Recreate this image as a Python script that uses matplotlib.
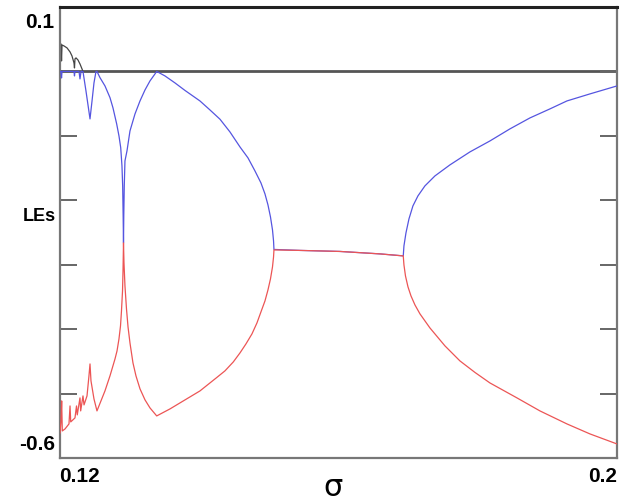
import numpy as np
import matplotlib
matplotlib.use("Agg")
import matplotlib.pyplot as plt

# Lyapunov exponents vs sigma

# largest LE (black), positive only at the very left, then 0
le1_sigma = [0.1200, 0.12014, 0.12022, 0.12029, 0.12057, 0.12101, 0.12144, 0.12172,
             0.12201, 0.12208, 0.12215, 0.12230, 0.12258, 0.12287, 0.12316, 0.12330]
le1_vals = [0.0427, 0.0427, 0.0163, 0.0411, 0.0396, 0.0365, 0.0303, 0.0241,
            0.0132, 0.0054, 0.0194, 0.0210, 0.0178, 0.0116, 0.0039, 0.0]

# second LE (blue)
le2_sigma = [0.1200, 0.12014, 0.12022, 0.12029, 0.12201, 0.12208, 0.12215, 0.12273,
             0.12287, 0.12302, 0.12330, 0.12373, 0.12402, 0.12431, 0.12460, 0.12488,
             0.12517, 0.12531, 0.12574, 0.12646, 0.12718, 0.12761, 0.12814, 0.12847,
             0.12872, 0.12890, 0.12900, 0.12907, 0.12912, 0.12916, 0.12923, 0.12933,
             0.12962, 0.13005, 0.13077, 0.13149, 0.13221, 0.13292, 0.13364, 0.13389,
             0.13508, 0.13651, 0.13795, 0.14010, 0.14154, 0.14298, 0.14441, 0.14585,
             0.14700, 0.14800, 0.14886, 0.14944, 0.14987, 0.15023, 0.15052, 0.15067,
             0.15073, 0.15446, 0.16021, 0.16595, 0.16930,
             0.16940, 0.16969, 0.17012, 0.17069, 0.17141, 0.17241, 0.17385, 0.17600,
             0.17888, 0.18175, 0.18462, 0.18749, 0.19036, 0.19281, 0.19611, 0.2000]
le2_vals = [0.0, 0.0, -0.0101, 0.0, 0.0, -0.0070, 0.0, 0.0,
            -0.0116, 0.0, 0.0, -0.0303, -0.0520, -0.0737, -0.0458, -0.0178,
            0.0, 0.0, -0.0096, -0.0225, -0.0407, -0.0566, -0.0815, -0.1001,
            -0.1183, -0.1467, -0.1777, -0.2242, -0.2662, -0.2242, -0.1777, -0.1389,
            -0.1234, -0.0924, -0.0660, -0.0458, -0.0287, -0.0148, -0.0039, 0.0,
            -0.0070, -0.0178, -0.0295, -0.0458, -0.0598, -0.0742, -0.0939, -0.1172,
            -0.1342, -0.1544, -0.1730, -0.1901, -0.2072, -0.2258, -0.2460, -0.2631,
            -0.2763, -0.2778, -0.2794, -0.2832, -0.2863,
            -0.2708, -0.2506, -0.2289, -0.2087, -0.1932, -0.1777, -0.1622, -0.1451,
            -0.1249, -0.1079, -0.0892, -0.0722, -0.0582, -0.0458, -0.0349, -0.0225]

# third LE (red)
le3_sigma = [0.1200, 0.12014, 0.12024, 0.12033, 0.12072, 0.12129, 0.12144, 0.12154,
             0.12215, 0.12237, 0.12248, 0.12287, 0.12297, 0.12330, 0.12345, 0.12388,
             0.12416, 0.12431, 0.12445, 0.12488, 0.12531, 0.12646, 0.12718, 0.12790,
             0.12819, 0.12847, 0.12869, 0.12883, 0.12898, 0.12905, 0.12912,
             0.12919, 0.12933, 0.12955, 0.12977, 0.13005, 0.13048, 0.13091, 0.13149,
             0.13221, 0.13292, 0.13389, 0.13580, 0.13771, 0.14010, 0.14250, 0.14369,
             0.14489, 0.14585, 0.14671, 0.14757, 0.14829, 0.14886, 0.14944, 0.14987,
             0.15023, 0.15052, 0.15067, 0.15073, 0.15446, 0.16021, 0.16595, 0.16930,
             0.16940, 0.16962, 0.16998, 0.17041, 0.17098, 0.17170, 0.17313, 0.17529,
             0.17744, 0.17960, 0.18175, 0.18563, 0.18893, 0.19281, 0.19611, 0.2000]
le3_vals = [-0.5611, -0.5425, -0.5114, -0.5580, -0.5549, -0.5471, -0.5192, -0.5440,
            -0.5378, -0.5192, -0.5331, -0.5067, -0.5269, -0.5036, -0.5176, -0.5036,
            -0.4725, -0.4540, -0.4803, -0.5083, -0.5269, -0.4958, -0.4725, -0.4462,
            -0.4338, -0.4152, -0.3950, -0.3717, -0.3406, -0.3096, -0.2662,
            -0.2972, -0.3329, -0.3686, -0.3965, -0.4214, -0.4524, -0.4725, -0.4927,
            -0.5098, -0.5222, -0.5347, -0.5238, -0.5114, -0.4959, -0.4752, -0.4648,
            -0.4509, -0.4369, -0.4229, -0.4074, -0.3903, -0.3733, -0.3562, -0.3391,
            -0.3220, -0.3034, -0.2879, -0.2770, -0.2778, -0.2794, -0.2832, -0.2863,
            -0.3003, -0.3174, -0.3344, -0.3484, -0.3624, -0.3763, -0.3981, -0.4260,
            -0.4493, -0.4672, -0.4835, -0.5067, -0.5269, -0.5471, -0.5626, -0.5782]

ytick_vals = [-0.5, -0.4, -0.3, -0.2, -0.1, 0.0]

fig = plt.figure(figsize=(6.31, 5.0), dpi=100)
ax = fig.add_axes([60 / 631, 1 - 458 / 500, 557 / 631, 451 / 500])

ax.axhline(0.0, color="#555555", lw=2.0, zorder=1)
ax.plot(le1_sigma, le1_vals, color="#444444", lw=0.9, zorder=2)
ax.plot(le2_sigma, le2_vals, color="#5555e0", lw=0.9, zorder=3)
ax.plot(le3_sigma, le3_vals, color="#ec5555", lw=0.9, zorder=4)

ax.set_xlim(0.12, 0.2)
ax.set_ylim(-0.6, 0.1)

ax.set_xticks([])
ax.set_yticks(ytick_vals)
ax.set_yticklabels([])
ax.tick_params(axis="y", direction="in", length=12, width=1.4, color="#666666",
               left=True, right=True)

for side in ["left", "right", "bottom"]:
    ax.spines[side].set_color("#777777")
    ax.spines[side].set_linewidth(1.6)
ax.spines["top"].set_color("#222222")
ax.spines["top"].set_linewidth(2.2)

lab = dict(family="Liberation Sans", fontweight="bold", fontsize=15)
fig.text(54 / 631, 1 - 22 / 500, "0.1", ha="right", va="center", **lab)
fig.text(55 / 631, 1 - 445 / 500, "-0.6", ha="right", va="center", **lab)
fig.text(59 / 631, 1 - 476 / 500, "0.12", ha="left", va="center", **lab)
fig.text(617 / 631, 1 - 476 / 500, "0.2", ha="right", va="center", **lab)
fig.text(56 / 631, 1 - 217 / 500, "LEs", ha="right", va="center",
         family="Liberation Sans", fontweight="bold", fontsize=13)
fig.text(333 / 631, 1 - 487 / 500, "σ", ha="center", va="center", fontsize=22)

fig.savefig("out.png", dpi=100)
